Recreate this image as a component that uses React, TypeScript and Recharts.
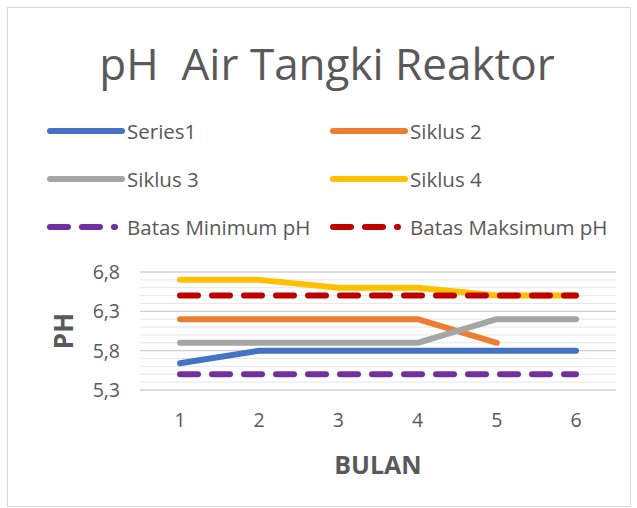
import React from 'react';
import { LineChart, Line, XAxis, YAxis, CartesianGrid, Label } from 'recharts';

const months = ['1', '2', '3', '4', '5', '6'];
const series1 = [5.64, 5.8, 5.8, 5.8, 5.8, 5.8];
const siklus2 = [6.2, 6.2, 6.2, 6.2, 5.9, null];
const siklus3 = [5.9, 5.9, 5.9, 5.9, 6.2, 6.2];
const siklus4 = [6.7, 6.7, 6.6, 6.6, 6.5, 6.5];
const batasMin = [5.5, 5.5, 5.5, 5.5, 5.5, 5.5];
const batasMaks = [6.5, 6.5, 6.5, 6.5, 6.5, 6.5];
const gridTicks = [5.3, 5.4, 5.5, 5.6, 5.7, 5.8, 5.9, 6.0, 6.1, 6.2, 6.3, 6.4, 6.5, 6.6, 6.7, 6.8];
const labeledTicks = [5.3, 5.8, 6.3, 6.8];

const data = months.map((m, i) => ({
  bulan: m,
  series1: series1[i],
  siklus2: siklus2[i],
  siklus3: siklus3[i],
  siklus4: siklus4[i],
  min: batasMin[i],
  maks: batasMaks[i],
}));

const FONT = '"Open Sans", sans-serif';
const TEXT = '#595959';

const SERIES = [
  { key: 'series1', name: 'Series1', color: '#4472C4', dashed: false },
  { key: 'siklus2', name: 'Siklus 2', color: '#ED7D31', dashed: false },
  { key: 'siklus3', name: 'Siklus 3', color: '#A5A5A5', dashed: false },
  { key: 'siklus4', name: 'Siklus 4', color: '#FFC000', dashed: false },
  { key: 'min', name: 'Batas Minimum pH', color: '#7030A0', dashed: true },
  { key: 'maks', name: 'Batas Maksimum pH', color: '#C00000', dashed: true },
];

// legend laid out in two columns like the Excel one
const ChartLegend = () => (
  <div style={{ position: 'absolute', left: 0, top: 116, width: 637, height: 130 }}>
    {SERIES.map((s, i) => {
      const col = i % 2;
      const row = Math.floor(i / 2);
      return (
        <div
          key={s.key}
          style={{
            position: 'absolute',
            left: col === 0 ? 46 : 329,
            top: row * 48,
            display: 'flex',
            alignItems: 'center',
            height: 30,
          }}
        >
          <svg width={80} height={10}>
            <line
              x1={4}
              y1={5}
              x2={s.dashed ? 69 : 76}
              y2={5}
              stroke={s.color}
              strokeWidth={6}
              strokeLinecap="round"
              strokeDasharray={s.dashed ? '18 14' : undefined}
            />
          </svg>
          <span style={{ fontFamily: FONT, fontSize: 20.5, color: TEXT, marginLeft: 1 }}>{s.name}</span>
        </div>
      );
    })}
  </div>
);

// major gridlines a bit darker than the minor ones
const gridLine = (props: any) => {
  const major = props.index % 5 === 0;
  return (
    <line
      key={props.key ?? `h-${props.index}`}
      x1={props.x1}
      y1={props.y1}
      x2={props.x2}
      y2={props.y2}
      stroke={major ? '#d0d0d0' : '#e6e6e6'}
      strokeWidth={major ? 1.3 : 1}
    />
  );
};

export default function App() {
  return (
    <div style={{ position: 'absolute', left: 0, top: 0, width: 637, height: 508, background: '#fff' }}>
      <div
        style={{
          position: 'absolute',
          left: 7,
          top: 7,
          width: 622,
          height: 498,
          border: '1px solid #d9d9d9',
        }}
      />
      <div
        style={{
          position: 'absolute',
          left: 0,
          top: 33,
          width: 654,
          textAlign: 'center',
          fontFamily: FONT,
          fontSize: 44,
          color: TEXT,
          whiteSpace: 'pre',
        }}
      >
        {'pH  Air Tangki Reaktor'}
      </div>
      <ChartLegend />
      <LineChart
        width={637}
        height={508}
        data={data}
        margin={{ top: 272, right: 21, bottom: 28, left: 80 }}
        style={{ position: 'absolute', left: 0, top: 0 }}
      >
        <CartesianGrid vertical={false} horizontal={gridLine} />
        <XAxis
          dataKey="bulan"
          axisLine={false}
          tickLine={false}
          height={90}
          padding={{ left: 40, right: 40 }}
          tick={{ fontFamily: FONT, fontSize: 19.5, fill: TEXT }}
          dy={15}
        >
          <Label
            value="BULAN"
            position="insideBottom"
            offset={6}
            style={{ fontFamily: FONT, fontSize: 25, fontWeight: 'bold', fill: TEXT }}
          />
        </XAxis>
        <YAxis
          domain={[5.3, 6.8]}
          ticks={gridTicks}
          interval={0}
          axisLine={false}
          tickLine={false}
          width={60}
          tick={{ fontFamily: FONT, fontSize: 19.5, fill: TEXT }}
          tickFormatter={(v: number) =>
            labeledTicks.some((t) => Math.abs(t - v) < 1e-6) ? v.toFixed(1).replace('.', ',') : ''
          }
          dx={-12}
        >
          <Label
            value="PH"
            angle={-90}
            position="insideLeft"
            offset={-16}
            style={{ fontFamily: FONT, fontSize: 26, fontWeight: 'bold', fill: TEXT, textAnchor: 'middle' }}
          />
        </YAxis>
        {SERIES.map((s) => (
          <Line
            key={s.key}
            type="linear"
            dataKey={s.key}
            name={s.name}
            stroke={s.color}
            strokeWidth={6}
            strokeLinecap="round"
            strokeLinejoin="round"
            strokeDasharray={s.dashed ? '18 14' : undefined}
            dot={false}
            activeDot={false}
            connectNulls={false}
            isAnimationActive={false}
          />
        ))}
      </LineChart>
    </div>
  );
}
